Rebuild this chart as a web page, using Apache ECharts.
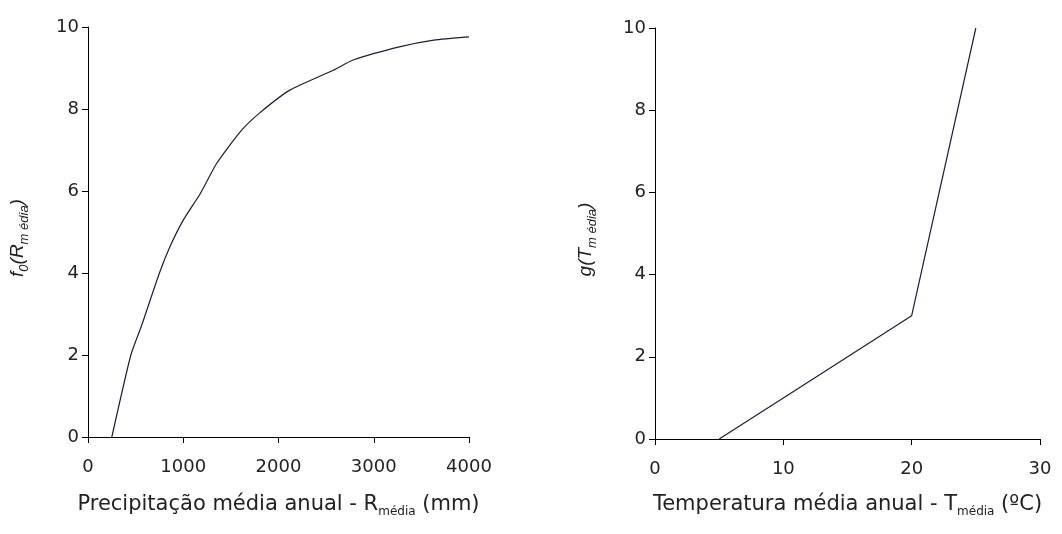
<!DOCTYPE html>
<html>
<head>
<meta charset="utf-8">
<script src="https://cdn.jsdelivr.net/npm/echarts@6/dist/echarts.min.js"></script>
<style>
  html, body { margin: 0; padding: 0; background: #fff; }
  #app { width: 1062px; height: 534px; }
</style>
</head>
<body>
<div id="app"></div>
<script>
// left panel: precipitation response f0(R)
const rainX = [250, 450, 560, 750, 860, 1000, 1180, 1350, 1600, 1800, 2120, 2580, 2790, 3280, 3630, 4000];
const rainY = [0, 2.0, 2.7, 4.0, 4.64, 5.29, 5.94, 6.67, 7.45, 7.9, 8.46, 8.95, 9.2, 9.52, 9.68, 9.76];
// right panel: temperature response g(T)
const tempX = [5, 10, 20, 25];
const tempY = [0, 1, 3, 10];

const app = document.getElementById("app");
const myChart = echarts.init(app);

const font = "DejaVu Sans, sans-serif";
const italicFont = "Liberation Sans, Arial, sans-serif";
const textColor = "#222";
const lineColor = "#1c1c3c";

const pairs = (xs, ys) => xs.map((x, i) => [x, ys[i]]);

const subRich = {
  s: { fontSize: 12, fontFamily: font, color: textColor, verticalAlign: "bottom", lineHeight: 26 },
};
const yNameRich = {
  i: { fontSize: 19, fontStyle: "italic", fontFamily: italicFont, color: textColor, lineHeight: 23 },
  s: { fontSize: 13, fontStyle: "italic", fontFamily: italicFont, color: textColor, verticalAlign: "bottom", lineHeight: 26 },
};

function xAxisCfg(gridIndex, max, interval, name, gap) {
  return {
    type: "value",
    gridIndex: gridIndex,
    min: 0,
    max: max,
    interval: interval,
    name: name,
    nameLocation: "middle",
    nameGap: gap,
    nameTextStyle: { fontSize: 21, fontFamily: font, color: textColor, rich: subRich },
    splitLine: { show: false },
    axisLine: { onZero: false, lineStyle: { color: "#000", width: 1 } },
    axisTick: { length: 6, lineStyle: { color: "#000" } },
    axisLabel: {
      fontSize: 18, fontFamily: font, color: textColor, margin: 21,
      formatter: (v) => String(v),
    },
  };
}

function yAxisCfg(gridIndex, name, gap) {
  return {
    type: "value",
    gridIndex: gridIndex,
    min: 0,
    max: 10,
    interval: 2,
    name: name,
    nameLocation: "middle",
    nameGap: gap,
    nameRotate: 90,
    nameTextStyle: { rich: yNameRich, padding: [0, 12, 0, 0] },
    splitLine: { show: false },
    axisLine: { show: true, lineStyle: { color: "#000", width: 1 } },
    axisTick: { show: true, length: 6, lineStyle: { color: "#000" } },
    axisLabel: { fontSize: 18, fontFamily: font, color: textColor, margin: 9 },
  };
}

const option = {
  backgroundColor: "#fff",
  animation: false,
  grid: [
    { left: 88, top: 27, width: 381, height: 410 },
    { left: 655, top: 28, width: 385, height: 411 },
  ],
  xAxis: [
    xAxisCfg(0, 4000, 1000, "Precipitação média anual - R{s|média} (mm)", 55),
    xAxisCfg(1, 30, 10, "Temperatura média anual - T{s|média} (ºC)", 53),
  ],
  yAxis: [
    yAxisCfg(0, "{i|f}{s|0}{i|(R}{s|m édia}{i|)}", 57),
    yAxisCfg(1, "{i|g(T}{s|m édia}{i|)}", 56),
  ],
  series: [
    {
      type: "line",
      xAxisIndex: 0,
      yAxisIndex: 0,
      data: pairs(rainX, rainY),
      showSymbol: false,
      smooth: 0.2,
      lineStyle: { color: lineColor, width: 1.2 },
    },
    {
      type: "line",
      xAxisIndex: 1,
      yAxisIndex: 1,
      data: pairs(tempX, tempY),
      showSymbol: false,
      lineStyle: { color: lineColor, width: 1.2 },
    },
  ],
};
myChart.setOption(option);
</script>
</body>
</html>
